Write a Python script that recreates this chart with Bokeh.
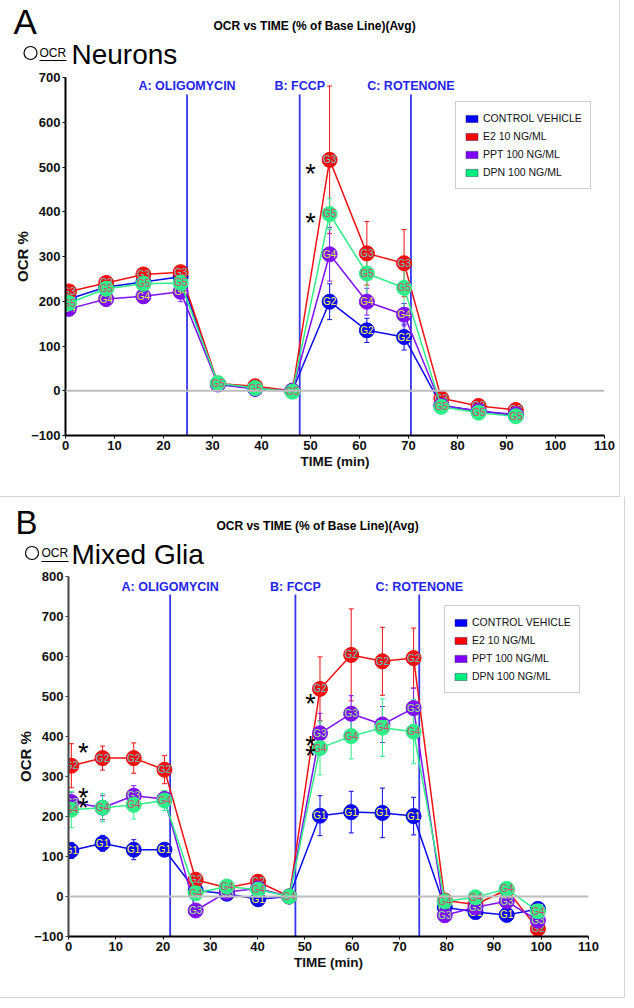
from bokeh.plotting import figure
from bokeh.models import (Range1d, FixedTicker, Span, Legend, LegendItem,
                          Whisker, TeeHead, ColumnDataSource)
from bokeh.embed import file_html
from bokeh.resources import INLINE
from bokeh.core.properties import value

FONT = "Liberation Sans"
NAN = float("nan")

# ---------------- data ----------------
series_names = ["CONTROL VEHICLE", "E2 10 NG/ML", "PPT 100 NG/ML", "DPN 100 NG/ML"]
line_colors = ["#0a0af0", "#f21010", "#7f10f5", "#2fee88"]
legend_colors = ["#0000ff", "#ff0000", "#7f00ff", "#00f080"]
marker_text_colors_A = ["#ffff44", "#66c8c8", "#d0ee44", "#d84477"]
marker_text_colors_B = ["#ffff44", "#55cccc", "#99ee77", "#d84477"]
x_ticks = [0, 10, 20, 30, 40, 50, 60, 70, 80, 90, 100, 110]
TITLE = "OCR vs TIME (% of Base Line)(Avg)"
inject_names = ["A: OLIGOMYCIN", "B: FCCP", "C: ROTENONE"]

# Panel A : Neurons
timeA = [0.7, 8.3, 15.9, 23.5, 31.1, 38.7, 46.3, 53.9, 61.5, 69.1, 76.7, 84.3, 91.9]
ctrlA = [205, 232, 243, 255, 15, 5, 0, 199, 135, 120, -33, -45, -55]
ctrlA_err = [10, 10, 10, 12, 4, 4, 3, 40, 27, 29, 5, 5, 5]
e2A = [222, 241, 260, 265, 16, 10, 0, 516, 307, 285, -17, -34, -43]
e2A_err = [10, 10, 12, 12, 5, 5, 3, 165, 71, 75, 5, 5, 5]
pptA = [183, 205, 211, 221, 14, 4, 0, 305, 199, 170, -33, -45, -53]
pptA_err = [12, 16, 16, 22, 5, 4, 3, 60, 30, 25, 5, 5, 5]
dpnA = [196, 228, 239, 241, 17, 6, -2, 395, 262, 230, -36, -49, -57]
dpnA_err = [10, 12, 12, 14, 5, 5, 3, 35, 60, 55, 5, 5, 5]
groupsA = ["G2", "G3", "G4", "G5"]
y_ticksA = [-100, 0, 100, 200, 300, 400, 500, 600, 700]
injectA_time = [24.8, 47.8, 70.5]
starA_x = [50.0, 50.0]
starA_y = [500, 390]

# Panel B : Mixed Glia
timeB = [0.6, 7.2, 13.8, 20.3, 26.9, 33.5, 40.1, 46.7, 53.2, 59.8, 66.4, 73.0,
         79.6, 86.1, 92.7, 99.3]
ctrlB = [115, 133, 117, 117, 15, 7, -7, 0, 202, 211, 209, 201, -27, -39, -46, -31]
ctrlB_err = [20, 20, 25, 12, 5, 5, 5, 3, 50, 52, 62, 47, 5, 5, 5, 5]
e2B = [327, 346, 346, 317, 42, 22, 37, 0, 519, 604, 588, 596, -10, -20, 17, -81]
e2B_err = [55, 30, 38, 35, 5, 5, 5, 3, 80, 115, 85, 75, 5, 5, 5, 5]
pptB = [236, 222, 252, 244, -35, 11, 20, 0, 408, 457, 430, 471, -47, -27, -12, -60]
pptB_err = [25, 30, 25, 20, 5, 5, 5, 3, 50, 45, 45, 50, 5, 5, 5, 5]
dpnB = [217, 222, 229, 240, 8, 25, 17, 0, 371, 401, 422, 412, -12, -2, 19, -37]
dpnB_err = [45, 35, 35, 25, 5, 5, 5, 3, 67, 57, 72, 80, 5, 5, 5, 5]
groupsB = ["G1", "G2", "G3", "G4"]
y_ticksB = [-100, 0, 100, 200, 300, 400, 500, 600, 700, 800]
injectB_time = [21.5, 48.0, 74.2]
starB_x = [3.1, 3.1, 3.1, 51.2, 51.2, 51.2]
starB_y = [377, 263, 240, 498, 395, 370]

BORDER = "1px solid #d4d4d4"


def header(letter, name, W, H, letter_pos, letter_size, title_pos, circ_pos,
           ocr_pos, ul_pos, name_pos):
    h = figure(width=W, height=H, x_range=Range1d(0, W), y_range=Range1d(H, 0),
               x_axis_type=None, y_axis_type=None, min_border=0, title_location=None,
               output_backend="svg", toolbar_location=None)
    h.outline_line_color = None
    h.xgrid.visible = False
    h.ygrid.visible = False
    h.styles = {"border-right": BORDER}
    h.text(x=[letter_pos[0]], y=[letter_pos[1]], text=[letter], text_font=value(FONT),
           text_font_size=letter_size, text_color="black", text_baseline="middle")
    h.text(x=[title_pos[0]], y=[title_pos[1]], text=[TITLE], text_font=value(FONT),
           text_font_style="bold", text_font_size="12px", text_color="black",
           text_align="center", text_baseline="middle")
    h.scatter(x=[circ_pos[0]], y=[circ_pos[1]], marker="circle", size=13,
              fill_color=None, line_color="black", line_width=1.2)
    h.text(x=[ocr_pos[0]], y=[ocr_pos[1]], text=["OCR"], text_font=value(FONT),
           text_font_size="12px", text_color="black", text_baseline="middle")
    h.segment(x0=[ul_pos[0]], y0=[ul_pos[2]], x1=[ul_pos[1]], y1=[ul_pos[2]],
              line_color="black", line_width=1.2)
    h.text(x=[name_pos[0]], y=[name_pos[1]], text=[name], text_font=value(FONT),
           text_font_size="28px", text_color="black", text_baseline="middle")
    return h


def build(times, vals, errs, groups, txt_colors, y_ticks, inj_times, star_x, star_y,
          W, H, fl, fr, ft, fb, inj_top, inj_lab, yaxis_color, msize, legend_xy):
    ymin, ymax = y_ticks[0], y_ticks[-1]
    p = figure(width=W, height=H, x_range=Range1d(0, 110), y_range=Range1d(ymin, ymax),
               output_backend="svg", toolbar_location=None,
               min_border_left=fl, min_border_right=fr, min_border_top=ft,
               min_border_bottom=fb)
    p.xgrid.visible = False
    p.ygrid.visible = False
    p.outline_line_color = None
    p.styles = {"border-right": BORDER, "border-bottom": BORDER}

    for ax in (p.xaxis[0], p.yaxis[0]):
        ax.major_label_text_font = FONT
        ax.major_label_text_font_style = "bold"
        ax.major_label_text_font_size = "13px"
        ax.major_label_text_color = "#111111"
        ax.axis_label_text_font = FONT
        ax.axis_label_text_font_style = "bold"
        ax.axis_label_text_color = "#111111"
        ax.minor_tick_line_color = None
        ax.major_tick_in = 0
        ax.major_tick_out = 3
        ax.axis_line_width = 2
        ax.major_label_standoff = 2
    p.xaxis.ticker = FixedTicker(ticks=x_ticks)
    p.yaxis.ticker = FixedTicker(ticks=y_ticks)
    p.xaxis.axis_label = "TIME (min)"
    p.xaxis.axis_label_text_font_size = "13.5px"
    p.xaxis.axis_label_standoff = 1
    p.yaxis.axis_label = "OCR %"
    p.yaxis.axis_label_text_font_size = "15px"
    p.yaxis.axis_label_standoff = -3
    p.xaxis.axis_line_color = "black"
    p.yaxis.axis_line_color = yaxis_color
    p.yaxis.major_tick_line_color = yaxis_color

    p.add_layout(Span(location=0, dimension="width", line_color="#bdbdbd", line_width=2))

    # injection lines and labels
    p.segment(x0=inj_times, y0=[inj_top] * 3, x1=inj_times, y1=[ymin] * 3,
              line_color="#3535ee", line_width=1.8)
    p.text(x=inj_times, y=[inj_lab] * 3, text=inject_names, text_align="center",
           text_baseline="middle", text_font=value(FONT), text_font_style="bold",
           text_font_size="12.5px", text_color="#2424ee")

    # series
    for i in range(4):
        c = line_colors[i]
        lo = [v - e for v, e in zip(vals[i], errs[i])]
        up = [v + e for v, e in zip(vals[i], errs[i])]
        src = ColumnDataSource(dict(x=times, y=vals[i], lo=lo, up=up,
                                    g=[groups[i]] * len(times)))
        p.add_layout(Whisker(source=src, base="x", lower="lo", upper="up",
                             line_color=c, line_width=1,
                             upper_head=TeeHead(size=5, line_color=c, line_width=1),
                             lower_head=TeeHead(size=5, line_color=c, line_width=1)))
        p.line("x", "y", source=src, line_color=c, line_width=1.5)
        p.scatter("x", "y", source=src, size=msize, fill_color=c, line_color=c)
        p.text("x", "y", text="g", source=src, text_align="center", text_baseline="middle",
               text_font=value(FONT), text_font_size="10px", text_color=txt_colors[i])

    # significance asterisks
    p.text(x=star_x, y=star_y, text=["*"] * len(star_x), text_align="center",
           text_baseline="middle", y_offset=7, text_font=value(FONT),
           text_font_size="27px", text_color="black")

    # legend (colour swatches)
    items = []
    for i in range(4):
        r = p.quad(left=[NAN], right=[NAN], top=[NAN], bottom=[NAN],
                   fill_color=legend_colors[i], line_color="#333366", line_width=0.5)
        items.append(LegendItem(label=series_names[i], renderers=[r]))
    leg = Legend(items=items, location=legend_xy, label_text_font=FONT,
                 label_text_font_size="10.5px", label_text_color="#111111",
                 glyph_width=15, glyph_height=9, label_height=16, label_standoff=4,
                 spacing=2, padding=8, margin=0, border_line_color="#999999",
                 border_line_width=1.5, background_fill_alpha=1)
    p.add_layout(leg)
    return p


hA = header("A", "Neurons", W=620, H=68, letter_pos=(13, 21), letter_size="35px",
            title_pos=(314, 25.5), circ_pos=(30, 52.5), ocr_pos=(39, 52.5),
            ul_pos=(39, 66, 60), name_pos=(71, 53.5))

pA = build(timeA, [ctrlA, e2A, pptA, dpnA], [ctrlA_err, e2A_err, pptA_err, dpnA_err],
           groupsA, marker_text_colors_A, y_ticksA, injectA_time, starA_x, starA_y,
           W=620, H=429, fl=65, fr=16, ft=9, fb=62, inj_top=662, inj_lab=680,
           yaxis_color="black", msize=15, legend_xy=(390, 246))

hB = header("B", "Mixed Glia", W=625, H=71, letter_pos=(15, 25), letter_size="33px",
            title_pos=(317, 28), circ_pos=(31.5, 55.5), ocr_pos=(41, 55.5),
            ul_pos=(41, 68, 64), name_pos=(71, 56.5))

pB = build(timeB, [ctrlB, e2B, pptB, dpnB], [ctrlB_err, e2B_err, pptB_err, dpnB_err],
           groupsB, marker_text_colors_B, y_ticksB, injectB_time, starB_x, starB_y,
           W=625, H=430, fl=68, fr=37, ft=8, fb=62, inj_top=755, inj_lab=775,
           yaxis_color="#444444", msize=15, legend_xy=(376, 243))

open("out.html", "w").write(file_html([hA, pA, hB, pB], INLINE))
